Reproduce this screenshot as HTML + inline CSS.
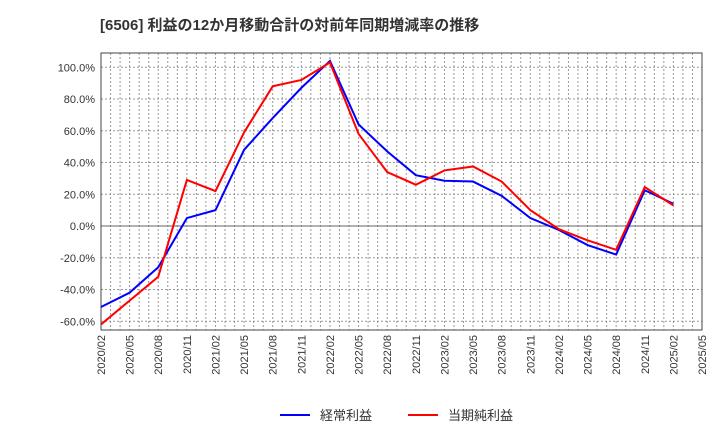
<!DOCTYPE html>
<html><head><meta charset="utf-8"><style>
body{margin:0;background:#fff;font-family:"Liberation Sans","Noto Sans CJK JP",sans-serif;}
svg text{font-family:"Liberation Sans","Noto Sans CJK JP",sans-serif;}
</style></head><body>
<svg id="chart" width="720" height="440" xmlns="http://www.w3.org/2000/svg">
<text x="100" y="30" font-size="15" font-weight="bold" fill="#333">[6506]  利益の12か月移動合計の対前年同期増減率の推移</text>
<g id="grid"></g>
<g id="axes"></g>
<g id="series"></g>
<g>
<line x1="280" y1="415" x2="310" y2="415" stroke="#0000ff" stroke-width="2"/>
<text x="320" y="420" font-size="13" fill="#333">経常利益</text>
<line x1="408" y1="415" x2="438" y2="415" stroke="#ff0000" stroke-width="2"/>
<text x="448" y="420" font-size="13" fill="#333">当期純利益</text>
</g>
</svg>
<script>
const xLabels=["2020/02","2020/05","2020/08","2020/11","2021/02","2021/05","2021/08","2021/11","2022/02","2022/05","2022/08","2022/11","2023/02","2023/05","2023/08","2023/11","2024/02","2024/05","2024/08","2024/11","2025/02","2025/05"];
const yTicks=[-60,-40,-20,0,20,40,60,80,100];
const keijo=[-51,-42,-26,5,10,48,68,87,104,64,47,32,28.5,28,19,5,-2.5,-12,-18,22.5,14];
const junri=[-62,-47,-32,29,22,59,88,92,103,58,34,26,35,37.5,28,10,-2,-9,-15,24.5,13];
const L=101,R=702,T=53,B=330;
const NS="http://www.w3.org/2000/svg";
const xq=i=>L+(R-L)*i/(xLabels.length-1);
const xm=m=>L+(R-L)*m/63;
const y=v=>226-v*1.5875;
function mk(tag,attrs,parent){const e=document.createElementNS(NS,tag);for(const k in attrs)e.setAttribute(k,attrs[k]);parent.appendChild(e);return e;}
const grid=document.getElementById('grid'),axes=document.getElementById('axes'),series=document.getElementById('series');
for(let m=1;m<63;m++){const g=mk('line',{x1:xm(m),x2:xm(m),y1:T,y2:B,stroke:'#999','stroke-dasharray':'2,2','stroke-width':1},grid);

}
yTicks.forEach(v=>{const zero=v===0;const g=mk('line',{x1:L,x2:R,y1:y(v),y2:y(v),stroke:zero?'#666':'#999','stroke-dasharray':zero?'none':'2,2','stroke-width':1},grid);


const t=mk('text',{x:L-6,y:y(v)+4,'text-anchor':'end','font-size':11,fill:'#333'},axes);t.textContent=v.toFixed(1)+'%';

});
const fr=mk('rect',{x:L,y:T,width:R-L,height:B-T,fill:'none',stroke:'#444','stroke-width':1},axes);


xLabels.forEach((s,i)=>{const t=mk('text',{transform:`translate(${xq(i)+4},${B+5}) rotate(-90)`,'text-anchor':'end','font-size':11,fill:'#333'},axes);t.textContent=s;

});
function line(d,c,n){const p=mk('polyline',{points:d.map((v,i)=>xq(i)+','+y(v)).join(' '),fill:'none',stroke:c,'stroke-width':2},series);

}
line(keijo,'#0000ff','keijo-line');
line(junri,'#ff0000','junri-line');
</script>
</body></html>
